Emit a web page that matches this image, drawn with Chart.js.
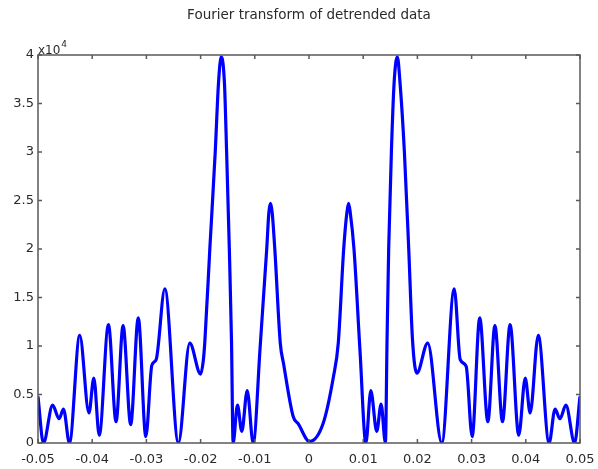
<!DOCTYPE html>
<html>
<head>
<meta charset="utf-8">
<script src="https://cdn.jsdelivr.net/npm/chart.js@4.4.0/dist/chart.umd.min.js"></script>
<style>
  html,body{margin:0;padding:0;background:#fff;}
  #wrap{width:598px;height:469px;}
</style>
</head>
<body>
<div id="wrap"><canvas id="fft"></canvas></div>
<script>
// frequencies and magnitudes (magnitude in raw units)
const freqs=[-0.0500,-0.0490,-0.0473,-0.0461,-0.0453,-0.0442,-0.0423,-0.0406,-0.0397,-0.0387,
  -0.0370,-0.0356,-0.0343,-0.0329,-0.0315,-0.0301,-0.0290,-0.0282,-0.0266,-0.0241,
  -0.0220,-0.0200,-0.0195,-0.0192,-0.0183,-0.0173,-0.0167,-0.0162,-0.0156,-0.0152,
  -0.0147,-0.0143,-0.0140,-0.0132,-0.0124,-0.0114,-0.0103,-0.0090,-0.0078,-0.0074,
  -0.0071,-0.0068,-0.0063,-0.0053,-0.0047,-0.0029,-0.0020,0.0001,0.0026,0.0045,
  0.0054,0.0064,0.0070,0.0073,0.0076,0.0083,0.0094,0.0105,0.0114,0.0125,
  0.0133,0.0141,0.0144,0.0147,0.0152,0.0157,0.0163,0.0168,0.0176,0.0184,
  0.0191,0.0199,0.0219,0.0245,0.0268,0.0279,0.0290,0.0301,0.0315,0.0330,
  0.0343,0.0357,0.0371,0.0387,0.0399,0.0408,0.0423,0.0443,0.0454,0.0463,
  0.0474,0.0490,0.0500];
const mags=[4800,0,3900,2500,3500,0,11100,3100,6700,800,
  12200,2200,12100,1900,12900,650,8000,8600,15900,0,
  10300,7100,8500,10600,20000,30000,37100,39800,37100,30000,
  20000,10600,0,3900,1200,5400,0,10000,20000,23800,
  24700,23800,19900,10300,8200,2700,2000,150,2000,6800,
  10300,20000,23800,24700,23800,20000,9600,0,5400,1200,
  4000,0,10600,20000,30000,37100,39800,37100,30000,20000,
  10600,7200,10300,0,15900,8600,7900,650,12900,2200,
  12100,2200,12200,800,6700,3100,11100,0,3500,2500,
  3900,0,4800];
const xTicks=[-0.05,-0.04,-0.03,-0.02,-0.01,0,0.01,0.02,0.03,0.04,0.05];
const yTicks=[0,5000,10000,15000,20000,25000,30000,35000,40000];
const exponent=4;
const titleText="Fourier transform of detrended data";

const axisGray="#5a5a5a";
const textCol="#2a2a2a";

const boxTicks={
  id:"boxTicks",
  afterDraw(chart){
    const {ctx,chartArea:a,scales:{x,y}}=chart;
    ctx.save();
    ctx.strokeStyle=axisGray;
    ctx.lineWidth=1.5;
    ctx.strokeRect(a.left,a.top,a.right-a.left,a.bottom-a.top);
    ctx.beginPath();
    xTicks.forEach(v=>{
      const px=x.getPixelForValue(v);
      ctx.moveTo(px,a.bottom); ctx.lineTo(px,a.bottom-4);
      ctx.moveTo(px,a.top); ctx.lineTo(px,a.top+4);
    });
    yTicks.forEach(v=>{
      const py=y.getPixelForValue(v);
      ctx.moveTo(a.left,py); ctx.lineTo(a.left+4,py);
      ctx.moveTo(a.right,py); ctx.lineTo(a.right-4,py);
    });
    ctx.stroke();
    ctx.fillStyle=textCol;
    // title centred over the axes
    ctx.textAlign="center";
    ctx.textBaseline="middle";
    ctx.font="13.5px 'DejaVu Sans'";
    ctx.fillText(titleText,(a.left+a.right)/2,15);
    // x10^4 multiplier
    ctx.textBaseline="alphabetic";
    ctx.textAlign="left";
    ctx.font="12px 'DejaVu Sans'";
    ctx.fillText("x10",a.left,a.top-1);
    const w=ctx.measureText("x10").width;
    ctx.font="9px 'DejaVu Sans'";
    ctx.fillText(String(exponent),a.left+w+1,a.top-8);
    ctx.restore();
  }
};

new Chart(document.getElementById("fft"),{
  type:"line",
  data:{datasets:[{
    data:freqs.map((f,i)=>({x:f,y:mags[i]})),
    borderColor:"#0000ff",
    borderWidth:3.2,
    pointRadius:0,
    fill:false,
    cubicInterpolationMode:"monotone"
  }]},
  options:{
    responsive:true,
    maintainAspectRatio:false,
    animation:false,
    layout:{padding:{left:0,right:18,top:55,bottom:0}},
    plugins:{
      legend:{display:false},
      tooltip:{enabled:false},
      title:{display:false}
    },
    scales:{
      x:{
        type:"linear",
        min:-0.05,max:0.05,
        afterBuildTicks:s=>{s.ticks=xTicks.map(v=>({value:v}));},
        afterFit:s=>{s.height=26;s.paddingLeft=0;s.paddingRight=0;},
        grid:{display:false,drawTicks:false},
        border:{display:false},
        ticks:{
          autoSkip:false,maxRotation:0,padding:9,color:textCol,
          font:{family:"'DejaVu Sans'",size:13},
          callback:v=>String(Math.round(v*100)/100)
        }
      },
      y:{
        min:0,max:40000,
        afterBuildTicks:s=>{s.ticks=yTicks.map(v=>({value:v}));},
        afterFit:s=>{s.width=38;s.paddingTop=0;s.paddingBottom=0;},
        grid:{display:false,drawTicks:false},
        border:{display:false},
        ticks:{
          padding:4,color:textCol,
          font:{family:"'DejaVu Sans'",size:13},
          callback:v=>String(v/Math.pow(10,exponent))
        }
      }
    }
  },
  plugins:[boxTicks]
});
</script>
</body>
</html>
